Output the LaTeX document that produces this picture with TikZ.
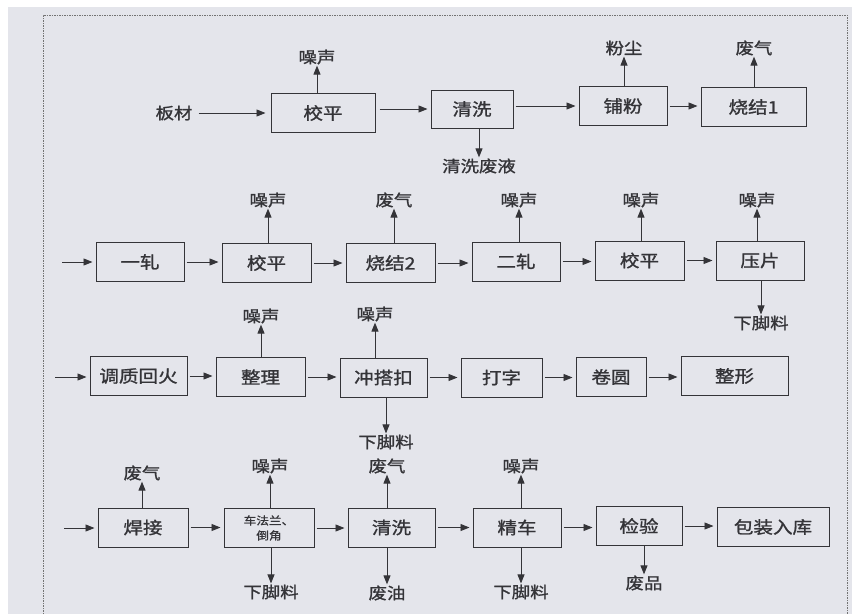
\documentclass[tikz,border=0pt]{standalone}
\usepackage{fontspec}
\newfontfamily\cjk[FakeStretch=1.15, FakeBold=1.2]{Noto Sans CJK SC}
\usepackage{xcolor}
\usepackage{tikz}
\usetikzlibrary{arrows.meta}
\definecolor{pagebg}{RGB}{228,229,235}
\definecolor{ink}{RGB}{52,52,56}

\begin{document}
\begin{tikzpicture}[
  x=1pt, y=-1pt,
  box/.style={draw=ink, line width=1pt, minimum height=39pt, inner sep=0pt, align=center, text=ink, font=\cjk\fontsize{17}{17}\selectfont},
  lbl/.style={inner sep=1pt, text=ink, font=\cjk\fontsize{16}{16}\selectfont},
  arrow/.style={-{Triangle[length=9pt, width=7pt]}, draw=ink, line width=0.9pt},
  flow/.style={arrow, shorten <=2pt, shorten >=3pt},
]
\useasboundingbox (0,0) rectangle (852,614);

% Page
\fill[pagebg] (8,7) rectangle (852,614);
\draw[gray!90!black, line width=1pt, dash pattern=on 1.5pt off 1pt] (43,614) -- (43,15) -- (847,15) -- (847,614);

% Row 1
\node[lbl] (bancai) at (174,113) {板材};
\node[box, minimum width=104pt] (jiaoping1) at (323,113) {校平};
\node[box, minimum width=82pt, minimum height=38pt] (qingxi1) at (472,109) {清洗};
\node[box, minimum width=88pt] (pufen) at (623,106) {铺粉};
\node[box, minimum width=105pt] (shaojie1) at (753.5,107) {烧结1};

\node[lbl] (noise1) at (317,57) {噪声};
\node[lbl] (waste1) at (479,166) {清洗废液};
\node[lbl] (dust1) at (624,48) {粉尘};
\node[lbl] (gas1) at (754,48) {废气};

\draw[arrow, shorten <=5pt, shorten >=5pt] (bancai) -- (jiaoping1);
\draw[flow, shorten <=4pt] (jiaoping1.east |- qingxi1) -- (qingxi1);
\draw[flow] (qingxi1.east |- pufen) -- (pufen);
\draw[flow] (pufen) -- (pufen -| shaojie1.west);
\draw[arrow] (jiaoping1.north -| noise1) -- (noise1);
\draw[arrow] (qingxi1.south -| waste1) -- (waste1);
\draw[arrow] (pufen.north -| dust1) -- (dust1);
\draw[arrow] (shaojie1.north -| gas1) -- (gas1);

% Row 2
\coordinate (in2) at (62,262);
\node[box, minimum width=88pt] (yizha) at (140,262) {一轧};
\node[box, minimum width=89pt] (jiaoping2) at (266.5,263) {校平};
\node[box, minimum width=89pt] (shaojie2) at (390.5,263) {烧结2};
\node[box, minimum width=88pt] (erzha) at (516,261.5) {二轧};
\node[box, minimum width=89pt] (jiaoping3) at (639.5,260.5) {校平};
\node[box, minimum width=88pt] (yapian) at (760,260.5) {压片};

\node[lbl] (noise2) at (268,200) {噪声};
\node[lbl] (gas2) at (394,200) {废气};
\node[lbl] (noise3) at (519,200) {噪声};
\node[lbl] (noise4) at (641,200) {噪声};
\node[lbl] (noise5) at (757,200) {噪声};
\node[lbl] (scrap1) at (761,323) {下脚料};

\draw[arrow, shorten >=3pt] (in2) -- (in2 -| yizha.west);
\draw[flow] (yizha) -- (yizha -| jiaoping2.west);
\draw[flow] (jiaoping2) -- (jiaoping2 -| shaojie2.west);
\draw[flow] (shaojie2) -- (shaojie2 -| erzha.west);
\draw[flow] (erzha) -- (erzha -| jiaoping3.west);
\draw[flow] (jiaoping3) -- (jiaoping3 -| yapian.west);
\draw[arrow] (jiaoping2.north -| noise2) -- (noise2);
\draw[arrow] (shaojie2.north -| gas2) -- (gas2);
\draw[arrow] (erzha.north -| noise3) -- (noise3);
\draw[arrow] (jiaoping3.north -| noise4) -- (noise4);
\draw[arrow] (yapian.north -| noise5) -- (noise5);
\draw[arrow] (yapian.south -| scrap1) -- (scrap1);

% Row 3
\coordinate (in3) at (55,377);
\node[box, minimum width=97pt] (tiaozhi) at (138.5,376) {调质回火};
\node[box, minimum width=89pt] (zhengli) at (260.5,377) {整理};
\node[box, minimum width=87pt] (chongkou) at (383.5,377.5) {冲搭扣};
\node[box, minimum width=81pt] (dazi) at (501.5,377.5) {打字};
\node[box, minimum width=70pt] (juanyuan) at (611,377) {卷圆};
\node[box, minimum width=107pt] (zhengxing) at (734.5,376) {整形};

\node[lbl] (noise6) at (261,316) {噪声};
\node[lbl] (noise7) at (375,314) {噪声};
\node[lbl] (scrap2) at (386,442) {下脚料};

\draw[arrow, shorten >=3pt] (in3) -- (in3 -| tiaozhi.west);
\draw[flow] (tiaozhi) -- (tiaozhi -| zhengli.west);
\draw[flow] (zhengli) -- (zhengli -| chongkou.west);
\draw[flow] (chongkou) -- (chongkou -| dazi.west);
\draw[flow] (dazi) -- (dazi -| juanyuan.west);
\draw[flow] (juanyuan) -- (juanyuan -| zhengxing.west);
\draw[arrow] (zhengli.north -| noise6) -- (noise6);
\draw[arrow] (chongkou.north -| noise7) -- (noise7);
\draw[arrow] (chongkou.south -| scrap2) -- (scrap2);

% Row 4
\coordinate (in4) at (64,528);
\node[box, minimum width=90pt] (hanjie) at (143,527.5) {焊接};
\node[box, minimum width=90pt, font=\cjk\fontsize{11}{15}\selectfont] (chefalan) at (269,528) {车法兰、\\倒角};
\node[box, minimum width=87pt] (qingxi2) at (391.5,527.5) {清洗};
\node[box, minimum width=88pt] (jingche) at (517,527.5) {精车};
\node[box, minimum width=86pt] (jianyan) at (639,526) {检验};
\node[box, minimum width=112pt] (baozhuang) at (773,527) {包装入库};

\node[lbl] (gas3) at (142,473) {废气};
\node[lbl] (noise8) at (270,466) {噪声};
\node[lbl] (gas4) at (387,466) {废气};
\node[lbl] (noise9) at (521,466) {噪声};
\node[lbl] (scrap3) at (271,592) {下脚料};
\node[lbl] (oil) at (387,593) {废油};
\node[lbl] (scrap4) at (521,592) {下脚料};
\node[lbl] (reject) at (644,583) {废品};

\draw[arrow, shorten >=3pt] (in4) -- (in4 -| hanjie.west);
\draw[flow] (hanjie) -- (hanjie -| chefalan.west);
\draw[flow] (chefalan) -- (chefalan -| qingxi2.west);
\draw[flow] (qingxi2) -- (qingxi2 -| jingche.west);
\draw[flow] (jingche) -- (jingche -| jianyan.west);
\draw[flow] (jianyan) -- (jianyan -| baozhuang.west);
\draw[arrow] (hanjie.north -| gas3) -- (gas3);
\draw[arrow] (chefalan.north -| noise8) -- (noise8);
\draw[arrow] (qingxi2.north -| gas4) -- (gas4);
\draw[arrow] (jingche.north -| noise9) -- (noise9);
\draw[arrow] (chefalan.south -| scrap3) -- (scrap3);
\draw[arrow] (qingxi2.south -| oil) -- (oil);
\draw[arrow] (jingche.south -| scrap4) -- (scrap4);
\draw[arrow] (jianyan.south -| reject) -- (reject);

\end{tikzpicture}
\end{document}
